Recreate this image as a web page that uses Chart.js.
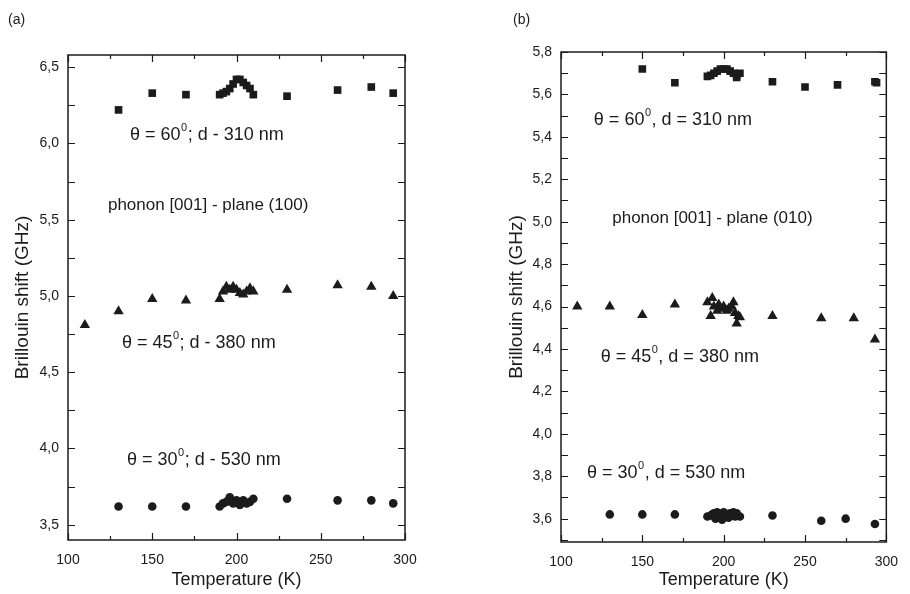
<!DOCTYPE html>
<html>
<head>
<title>Brillouin shift</title>
<meta charset="utf-8" />
<script src="https://cdn.jsdelivr.net/npm/chart.js@4.4.0/dist/chart.umd.min.js"></script>
<style>
  body { margin: 0; background: #fff; }
  #wrap { position: relative; width: 910px; height: 594px; }
  .pane { position: absolute; top: 0; width: 455px; height: 594px; }
</style>
</head>
<body>
<div id="wrap">
  <div class="pane" style="left:0"><canvas id="chartA"></canvas></div>
  <div class="pane" style="left:455px"><canvas id="chartB"></canvas></div>
</div>
<script>
// axis ticks
const xTicks = [100, 150, 200, 250, 300];
const xMinor = [125, 175, 225, 275];
const yTicksA = [3.5, 4.0, 4.5, 5.0, 5.5, 6.0, 6.5];
const yMinorA = [3.75, 4.25, 4.75, 5.25, 5.75, 6.25];
const yTicksB = [3.6, 3.8, 4.0, 4.2, 4.4, 4.6, 4.8, 5.0, 5.2, 5.4, 5.6, 5.8];
const yMinorB = [3.5, 3.7, 3.9, 4.1, 4.3, 4.5, 4.7, 4.9, 5.1, 5.3, 5.5, 5.7];

// panel (a): plane (100)
const aSqT = [130, 150, 170, 190, 192, 194, 196, 198, 200, 202, 204, 206, 208, 210, 230, 260, 280, 293];
const aSqV = [6.22, 6.33, 6.32, 6.32, 6.33, 6.34, 6.36, 6.39, 6.42, 6.42, 6.40, 6.38, 6.36, 6.32, 6.31, 6.35, 6.37, 6.33];
const aTriT = [110, 130, 150, 170, 190, 192, 194, 196, 198, 200, 202, 204, 206, 208, 210, 230, 260, 280, 293];
const aTriV = [4.81, 4.90, 4.98, 4.97, 4.98, 5.03, 5.06, 5.04, 5.06, 5.04, 5.02, 5.01, 5.03, 5.05, 5.03, 5.04, 5.07, 5.06, 5.00];
const aCirT = [130, 150, 170, 190, 192, 194, 196, 198, 200, 202, 204, 206, 208, 210, 230, 260, 280, 293];
const aCirV = [3.62, 3.62, 3.62, 3.62, 3.64, 3.65, 3.68, 3.64, 3.66, 3.63, 3.66, 3.64, 3.65, 3.67, 3.67, 3.66, 3.66, 3.64];

// panel (b): plane (010)
const bSqT = [150, 170, 190, 192, 194, 196, 198, 200, 202, 204, 206, 208, 208, 210, 230, 250, 270, 293, 294];
const bSqV = [5.72, 5.655, 5.685, 5.69, 5.70, 5.71, 5.72, 5.72, 5.72, 5.71, 5.70, 5.69, 5.68, 5.70, 5.66, 5.635, 5.645, 5.66, 5.655];
const bTriT = [110, 130, 150, 170, 190, 192, 193, 194, 196, 197, 198, 200, 202, 203, 205, 206, 207, 208, 209, 210, 230, 260, 280, 293];
const bTriV = [4.60, 4.60, 4.56, 4.61, 4.62, 4.555, 4.64, 4.60, 4.58, 4.61, 4.59, 4.60, 4.58, 4.59, 4.60, 4.62, 4.57, 4.52, 4.555, 4.55, 4.555, 4.545, 4.545, 4.445];
const bCirT = [130, 150, 170, 190, 192, 193, 194, 195, 196, 197, 198, 199, 200, 201, 202, 203, 204, 205, 206, 207, 208, 210, 230, 260, 275, 293];
const bCirV = [3.62, 3.62, 3.62, 3.61, 3.615, 3.62, 3.625, 3.60, 3.63, 3.61, 3.62, 3.595, 3.63, 3.61, 3.62, 3.605, 3.625, 3.615, 3.63, 3.61, 3.625, 3.61, 3.615, 3.59, 3.60, 3.575];

// text notes placed at data coordinates: [T, value, main, sup, rest]
const notesA = [
  [136.8, 6.055, 'θ = 60', '0', '; d - 310 nm'],
  [123.7, 5.596, 'phonon [001] - plane (100)', '', ''],
  [132.0, 4.692, 'θ = 45', '0', '; d - 380 nm'],
  [135.0, 3.926, 'θ = 30', '0', '; d - 530 nm']
];
const notesB = [
  [120.2, 5.480, 'θ = 60', '0', ', d = 310 nm'],
  [131.5, 5.018, 'phonon [001] - plane (010)', '', ''],
  [124.4, 4.363, 'θ = 45', '0', ', d = 380 nm'],
  [116.0, 3.817, 'θ = 30', '0', ', d = 530 nm']
];

const ink = '#1b1b1b';
const fam = '"Liberation Sans", Arial, sans-serif';

function pts(ts, vs) { return ts.map((t, i) => ({x: t, y: vs[i]})); }

const frameTicks = {
  id: 'frameTicks',
  afterDraw(chart, args, o) {
    const {ctx, chartArea: a, scales: {x, y}} = chart;
    ctx.save();
    ctx.strokeStyle = ink;
    ctx.lineWidth = 1.5;
    ctx.strokeRect(a.left, a.top, a.right - a.left, a.bottom - a.top);
    ctx.lineWidth = 1.2;
    ctx.beginPath();
    const xt = (vals, len) => vals.forEach(v => {
      const px = Math.round(x.getPixelForValue(v)) + 0.5;
      ctx.moveTo(px, a.bottom); ctx.lineTo(px, a.bottom - len);
      ctx.moveTo(px, a.top); ctx.lineTo(px, a.top + len);
    });
    const yt = (vals, len) => vals.forEach(v => {
      const py = Math.round(y.getPixelForValue(v)) + 0.5;
      ctx.moveTo(a.left, py); ctx.lineTo(a.left + len, py);
      ctx.moveTo(a.right, py); ctx.lineTo(a.right - len, py);
    });
    xt(xTicks, 7); xt(xMinor, 4);
    yt(o.major, 7); yt(o.minor, 7);
    ctx.stroke();
    // panel letter
    ctx.fillStyle = ink;
    ctx.font = '14px ' + fam;
    ctx.textBaseline = 'middle';
    ctx.fillText(o.letter, o.lx, 20);
    ctx.restore();
  }
};

const notes = {
  id: 'notes',
  afterDatasetsDraw(chart, args, o) {
    const {ctx, scales: {x, y}} = chart;
    ctx.save();
    ctx.fillStyle = ink;
    ctx.textBaseline = 'middle';
    o.list.forEach(([t, v, main, sup, rest]) => {
      let px = x.getPixelForValue(t);
      const py = y.getPixelForValue(v);
      const big = sup ? 18 : 17;
      ctx.font = big + 'px ' + fam;
      ctx.fillText(main, px, py);
      px += ctx.measureText(main).width;
      if (sup) {
        ctx.font = '11px ' + fam;
        ctx.fillText(sup, px + 0.5, py - 7);
        px += ctx.measureText(sup).width + 1;
        ctx.font = big + 'px ' + fam;
        ctx.fillText(rest, px, py);
      }
    });
    ctx.restore();
  }
};

function makeChart(id, sets, yMin, yMax, yMajor, yMinor, list, box, letter, lx) {
  const ds = (data, style, r) => ({
    data, pointStyle: style, pointRadius: r, pointHoverRadius: r,
    backgroundColor: ink, borderColor: ink, borderWidth: 0, showLine: false
  });
  return new Chart(document.getElementById(id), {
    type: 'scatter',
    data: { datasets: [
      ds(sets[0], 'rect', 5.4),
      ds(sets[1], 'triangle', 6),
      ds(sets[2], 'circle', 4.3)
    ]},
    plugins: [frameTicks, notes],
    options: {
      responsive: true,
      maintainAspectRatio: false,
      animation: false,
      devicePixelRatio: 1,
      layout: { padding: { left: 0, top: box.top, right: box.right, bottom: 0 } },
      plugins: {
        legend: { display: false },
        tooltip: { enabled: false },
        frameTicks: { major: yMajor, minor: yMinor, letter, lx },
        notes: { list }
      },
      scales: {
        x: {
          type: 'linear', min: 100, max: 300,
          afterBuildTicks: s => { s.ticks = xTicks.map(v => ({value: v})); },
          afterFit: s => { s.height = box.xh; },
          grid: { display: false, drawTicks: false },
          border: { display: false },
          ticks: { autoSkip: false, maxRotation: 0, padding: 12, color: ink,
                   font: { family: fam, size: 14 }, callback: v => String(v) },
          title: { display: true, text: 'Temperature (K)', color: ink,
                   font: { family: fam, size: 18 }, padding: { top: 0, bottom: 3 } }
        },
        y: {
          type: 'linear', min: yMin, max: yMax,
          afterBuildTicks: s => { s.ticks = yMajor.map(v => ({value: v})); },
          afterFit: s => { s.width = box.yw; },
          grid: { display: false, drawTicks: false },
          border: { display: false },
          ticks: { autoSkip: false, padding: 9, color: ink,
                   font: { family: fam, size: 14 },
                   callback: v => v.toFixed(1).replace('.', ',') },
          title: { display: true, text: 'Brillouin shift (GHz)', color: ink,
                   font: { family: fam, size: 19 }, padding: { top: box.tp, bottom: 0 } }
        }
      }
    }
  });
}

makeChart('chartA', [pts(aSqT, aSqV), pts(aTriT, aTriV), pts(aCirT, aCirV)],
  3.4, 6.58, yTicksA, yMinorA, notesA,
  { top: 55, right: 50, xh: 54, yw: 68, tp: 11 }, '(a)', 8);

makeChart('chartB', [pts(bSqT, bSqV), pts(bTriT, bTriV), pts(bCirT, bCirV)],
  3.49, 5.8, yTicksB, yMinorB, notesB,
  { top: 52, right: 13, xh: 52, yw: 106, tp: 50 }, '(b)', 58);
</script>
</body>
</html>
